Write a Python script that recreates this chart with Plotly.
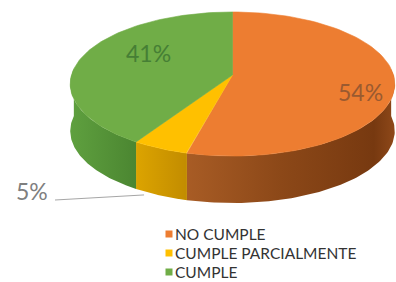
import numpy as np
import plotly.graph_objects as go

# ---- data ----
categories = ["NO CUMPLE", "CUMPLE PARCIALMENTE", "CUMPLE"]
values = [54, 5, 41]
labels = ["54%", "5%", "41%"]

# ---- styling ----
top_colors = ["#ED7D31", "#FFC000", "#70AD47"]
side_scales = [
    [[0, "#A85C25"], [0.45, "#8C4818"], [0.9, "#773910"], [1, "#8E4819"]],
    [[0, "#DCA400"], [1, "#C28C00"]],
    [[0, "#5FA03F"], [1, "#4B8631"]],
]
label_colors = ["#9A5A30", "#7F7F7F", "#467F35"]

W, H = 396, 282
cx, cy = 232.5, 75
rx, ry = 161, 70.9
persp = 0.125
depth = 47


def pt(theta_deg):
    t = np.radians(theta_deg)
    u, v = np.sin(t), -np.cos(t)
    s = 1.0 / (1.0 - persp * v)
    return cx + rx * u * s, cy + ry * v * s


def arc(a0, a1, n=90):
    ts = np.linspace(a0, a1, n)
    xs, ys = zip(*[pt(t) for t in ts])
    return np.array(xs), np.array(ys)


fig = go.Figure()

total = sum(values)
angles = np.cumsum([0] + [v / total * 360 for v in values])

# side walls (front, visible between ~90 and ~270 degrees)
for i, cat in enumerate(categories):
    a0, a1 = angles[i], angles[i + 1]
    s0, s1 = max(a0, 85), min(a1, 275)
    if s1 <= s0:
        continue
    xs, ys = arc(s0, s1)
    px = np.concatenate([xs, xs[::-1]])
    py = np.concatenate([ys, ys[::-1] + depth])
    fig.add_trace(go.Scatter(
        x=px, y=py, mode="lines", fill="toself",
        line=dict(width=0, color=side_scales[i][-1][1]),
        fillgradient=dict(type="horizontal", colorscale=side_scales[i]),
        hoverinfo="skip", showlegend=False))

# top faces
for i, cat in enumerate(categories):
    a0, a1 = angles[i], angles[i + 1]
    xs, ys = arc(a0, a1)
    px = np.concatenate([[cx], xs, [cx]])
    py = np.concatenate([[cy], ys, [cy]])
    fig.add_trace(go.Scatter(
        x=px, y=py, mode="lines", fill="toself",
        fillcolor=top_colors[i], line=dict(width=0.6, color=top_colors[i]),
        name=cat, hoverinfo="name", showlegend=False))

# data labels
label_pos = [(360, 92), (32, 191), (148, 53)]
for i, lab in enumerate(labels):
    fig.add_annotation(x=label_pos[i][0], y=label_pos[i][1], text=lab,
                       showarrow=False,
                       font=dict(family="Lato", size=23, color=label_colors[i]))

# leader line for the small slice
ex, ey = pt(angles[2])
fig.add_trace(go.Scatter(x=[55, ex + 8], y=[200, ey + depth + 6], mode="lines",
                         line=dict(color="#A6A6A6", width=1),
                         hoverinfo="skip", showlegend=False))

# legend
leg_x, leg_y0, leg_dy = 169, 234, 19
for i, cat in enumerate(categories):
    y = leg_y0 + i * leg_dy
    fig.add_trace(go.Scatter(x=[leg_x], y=[y], mode="markers",
                             marker=dict(symbol="square", size=7, color=top_colors[i]),
                             hoverinfo="skip", showlegend=False))
    fig.add_annotation(x=leg_x + 4, y=y, text=cat, xanchor="left", showarrow=False,
                       font=dict(family="Lato", size=15.5, color="#333333"))

fig.update_xaxes(range=[0, W], visible=False, fixedrange=True)
fig.update_yaxes(range=[H, 0], visible=False, fixedrange=True)
fig.update_layout(width=W, height=H, margin=dict(l=0, r=0, t=0, b=0),
                  paper_bgcolor="white", plot_bgcolor="white")

fig.write_html("out.html", config={"displayModeBar": False},
               post_script="document.body.style.margin='0';")
